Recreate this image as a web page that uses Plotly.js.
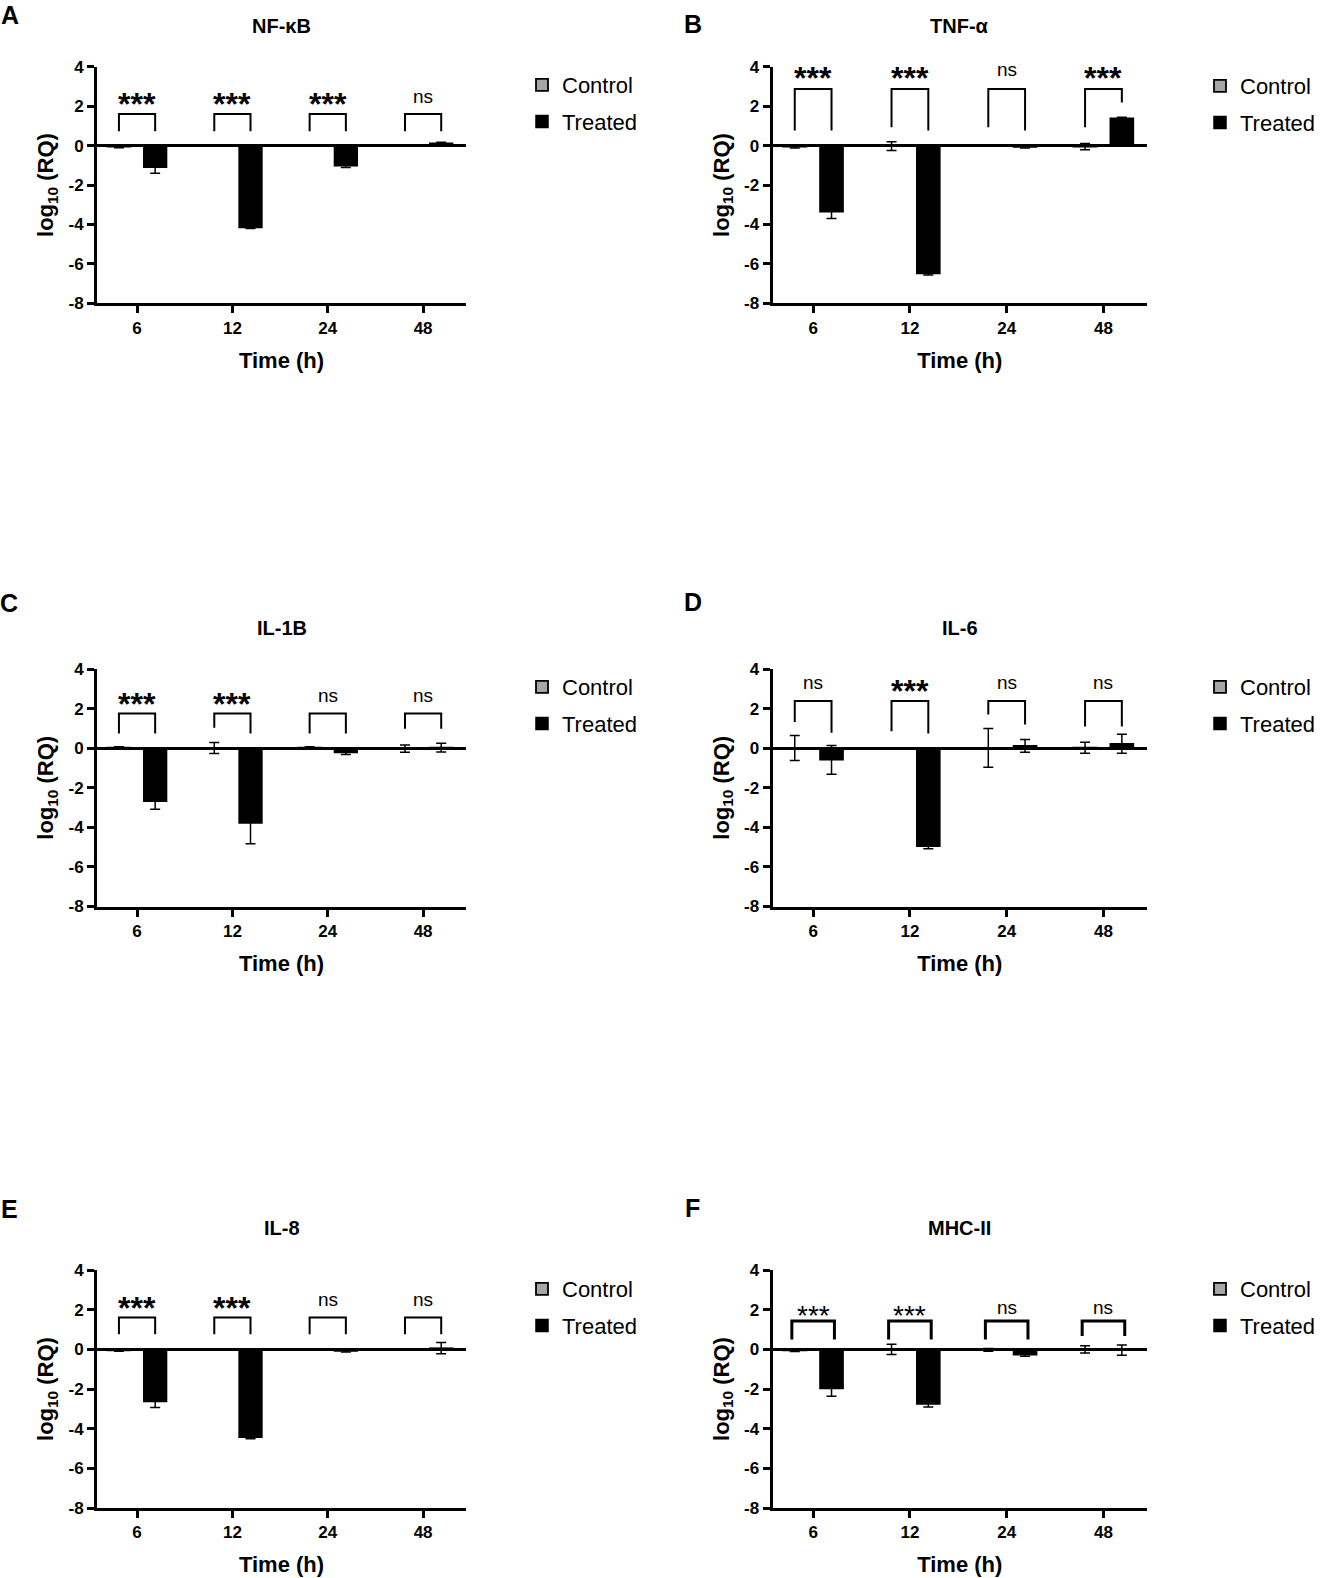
<!DOCTYPE html>
<html>
<head>
<meta charset="utf-8">
<script src="https://cdn.plot.ly/plotly-3.0.1.min.js"></script>
<style>html,body{margin:0;padding:0;background:#fff;} #chart{width:1321px;height:1578px;}</style>
</head>
<body>
<div id="chart"></div>
<script>
// ---------------- DATA ----------------
const categories = ['6', '12', '24', '48'];
const seriesNames = ['Control', 'Treated'];

const nfkbControl = [-0.05, -0.02, -0.02, -0.02];
const nfkbControlErr = [0.06, 0.02, 0.02, 0.02];
const nfkbTreated = [-1.10, -4.15, -1.03, 0.12];
const nfkbTreatedErr = [0.30, 0.05, 0.08, 0.05];
const nfkbSig = ['***', '***', '***', 'ns'];

const tnfControl = [-0.05, -0.03, -0.02, -0.05];
const tnfControlErr = [0.07, 0.22, 0.02, 0.16];
const tnfTreated = [-3.36, -6.49, -0.07, 1.38];
const tnfTreatedErr = [0.34, 0.08, 0.05, 0.05];
const tnfSig = ['***', '***', 'ns', '***'];

const il1bControl = [0.02, 0.01, 0.02, -0.02];
const il1bControlErr = [0.05, 0.28, 0.05, 0.18];
const il1bTreated = [-2.68, -3.78, -0.22, 0.03];
const il1bTreatedErr = [0.40, 1.05, 0.10, 0.22];
const il1bSig = ['***', '***', 'ns', 'ns'];

const il6Control = [0.01, 0.01, 0.01, 0.02];
const il6ControlErr = [0.63, 0.0, 0.98, 0.28];
const il6Treated = [-0.59, -4.96, 0.12, 0.22];
const il6TreatedErr = [0.73, 0.12, 0.32, 0.48];
const il6Sig = ['ns', '***', 'ns', 'ns'];

const il8Control = [-0.05, -0.01, -0.02, -0.03];
const il8ControlErr = [0.05, 0.01, 0.01, 0.02];
const il8Treated = [-2.63, -4.43, -0.08, 0.06];
const il8TreatedErr = [0.30, 0.08, 0.06, 0.28];
const il8Sig = ['***', '***', 'ns', 'ns'];

const mhcControl = [-0.05, 0.0, -0.03, 0.0];
const mhcControlErr = [0.06, 0.26, 0.07, 0.18];
const mhcTreated = [-1.97, -2.76, -0.27, -0.04];
const mhcTreatedErr = [0.40, 0.15, 0.08, 0.26];
const mhcSig = ['***', '***', 'ns', 'ns'];

const yTickVals = [-8, -6, -4, -2, 0, 2, 4];
const yTickText = ['-8', '-6', '-4', '-2', '0', '2', '4'];

// ---------------- LAYOUT CONFIG ----------------
const W = 1321, H = 1578;
const px = v => v / W;
const py = v => 1 - v / H;
const FONT = 'Arial, "Liberation Sans", Helvetica, sans-serif';

const cols = [[97, 466], [772.5, 1147]];
const rows = [[66.7, 303.3], [669, 906.5], [1270, 1508]];

const panels = [
  {letter: 'A', title: 'NF-κB', c: 0, r: 0, ctl: nfkbControl, ctlE: nfkbControlErr, trt: nfkbTreated, trtE: nfkbTreatedErr, sig: nfkbSig,
   brk: {top: 1.60, L: [0.72, 0.72, 0.72, 0.72], R: [0.72, 0.72, 0.72, 0.72], d: 0.19, ty: 2.5, bold: true, lw: 2},
   letterPos: [10, 15], titleY: 26, legY: 84},
  {letter: 'B', title: 'TNF-α', c: 1, r: 0, ctl: tnfControl, ctlE: tnfControlErr, trt: tnfTreated, trtE: tnfTreatedErr, sig: tnfSig,
   brk: {top: 2.87, L: [0.76, 0.93, 0.93, 0.93], R: [0.76, 0.76, 0.76, 2.19], d: 0.19, ty: 3.85, bold: true, lw: 2},
   letterPos: [693, 24], titleY: 26, legY: 85},
  {letter: 'C', title: 'IL-1B', c: 0, r: 1, ctl: il1bControl, ctlE: il1bControlErr, trt: il1bTreated, trtE: il1bTreatedErr, sig: il1bSig,
   brk: {top: 1.75, L: [0.74, 1.03, 0.74, 0.98], R: [0.74, 0.74, 0.74, 0.98], d: 0.19, ty: 2.65, bold: true, lw: 2},
   letterPos: [9, 603], titleY: 628, legY: 686},
  {letter: 'D', title: 'IL-6', c: 1, r: 1, ctl: il6Control, ctlE: il6ControlErr, trt: il6Treated, trtE: il6TreatedErr, sig: il6Sig,
   brk: {top: 2.38, L: [1.32, 0.86, 1.70, 1.10], R: [0.78, 0.74, 1.20, 1.10], d: 0.19, ty: 3.3, bold: true, lw: 2},
   letterPos: [693, 602], titleY: 628, legY: 686},
  {letter: 'E', title: 'IL-8', c: 0, r: 2, ctl: il8Control, ctlE: il8ControlErr, trt: il8Treated, trtE: il8TreatedErr, sig: il8Sig,
   brk: {top: 1.60, L: [0.76, 0.76, 0.76, 0.76], R: [0.76, 0.76, 0.76, 0.76], d: 0.19, ty: 2.5, bold: true, lw: 2},
   letterPos: [9, 1209], titleY: 1228, legY: 1288},
  {letter: 'F', title: 'MHC-II', c: 1, r: 2, ctl: mhcControl, ctlE: mhcControlErr, trt: mhcTreated, trtE: mhcTreatedErr, sig: mhcSig,
   brk: {top: 1.43, L: [0.49, 0.49, 0.49, 0.67], R: [0.49, 0.49, 0.49, 0.67], d: 0.22, ty: 2.13, bold: false, lw: 3},
   letterPos: [692, 1208], titleY: 1228, legY: 1288}
];

const xIdx = categories.map((_, i) => i);
const traces = [];
const layout = {
  width: W, height: H,
  margin: {l: 0, r: 0, t: 0, b: 0, pad: 0},
  paper_bgcolor: '#fff', plot_bgcolor: 'rgba(0,0,0,0)',
  barmode: 'group', bargap: 0.24, bargroupgap: 0.37,
  font: {family: FONT, color: '#000'},
  showlegend: true,
  shapes: [], annotations: []
};

panels.forEach((p, k) => {
  const n = k + 1;
  const xa = 'x' + (n === 1 ? '' : n);
  const ya = 'y' + (n === 1 ? '' : n);
  const legName = 'legend' + (n === 1 ? '' : n);
  const xd = cols[p.c], yd = rows[p.r];

  traces.push({
    type: 'bar', name: seriesNames[0], x: xIdx, y: p.ctl, xaxis: xa, yaxis: ya,
    legend: legName, legendgroup: 'c' + n,
    marker: {color: '#a6a6a6', line: {color: '#000', width: 1.8}},
    error_y: {type: 'data', array: p.ctlE, visible: true, color: '#000', thickness: 1.5, width: 5},
    hoverinfo: 'skip'
  });
  traces.push({
    type: 'bar', name: seriesNames[1], x: xIdx, y: p.trt, xaxis: xa, yaxis: ya,
    legend: legName, legendgroup: 't' + n,
    marker: {color: '#000', line: {color: '#000', width: 1.5}},
    error_y: {type: 'data', array: p.trtE, visible: true, color: '#000', thickness: 1.5, width: 5},
    hoverinfo: 'skip'
  });

  layout['xaxis' + (n === 1 ? '' : n)] = {
    domain: [px(xd[0]), px(xd[1])], anchor: ya,
    range: [-0.42, 3.45], tickvals: xIdx, ticktext: categories,
    showline: true, linewidth: 3, linecolor: '#000', mirror: false,
    ticks: 'outside', ticklen: 7, tickwidth: 3, tickcolor: '#000',
    tickfont: {family: FONT, size: 17, weight: 'bold', color: '#000'},
    showgrid: false, zeroline: false, fixedrange: true,
    title: {text: 'Time (h)', font: {family: FONT, size: 22, weight: 'bold', color: '#000'}, standoff: 16}
  };
  layout['yaxis' + (n === 1 ? '' : n)] = {
    domain: [py(yd[1]), py(yd[0])], anchor: xa,
    range: [-8, 4], tickvals: yTickVals, ticktext: yTickText,
    showline: true, linewidth: 3, linecolor: '#000',
    ticks: 'outside', ticklen: 7, tickwidth: 3, tickcolor: '#000',
    tickfont: {family: FONT, size: 17, weight: 'bold', color: '#000'},
    showgrid: false, zeroline: true, zerolinewidth: 3, zerolinecolor: '#000', fixedrange: true,
    title: {text: 'log<sub>10</sub> (RQ)', font: {family: FONT, size: 22, weight: 'bold', color: '#000'}, standoff: 9}
  };

  layout[legName] = {
    x: px(p.c === 0 ? 522 : 1200), xanchor: 'left',
    y: py(p.legY - 20), yanchor: 'top',
    bgcolor: 'rgba(0,0,0,0)', borderwidth: 0,
    font: {family: FONT, size: 22, color: '#000'},
    tracegroupgap: 5, traceorder: 'grouped'
  };

  // subplot title
  layout.annotations.push({
    xref: 'paper', yref: 'paper', x: px((xd[0] + xd[1]) / 2), y: py(p.titleY),
    xanchor: 'center', yanchor: 'middle', showarrow: false,
    text: p.title, font: {family: FONT, size: 20, weight: 'bold', color: '#000'}
  });
  // panel letter
  layout.annotations.push({
    xref: 'paper', yref: 'paper', x: px(p.letterPos[0]), y: py(p.letterPos[1]),
    xanchor: 'center', yanchor: 'middle', showarrow: false,
    text: p.letter, font: {family: FONT, size: 25, weight: 'bold', color: '#000'}
  });

  // significance brackets
  p.sig.forEach((s, i) => {
    const b = p.brk;
    layout.shapes.push({
      type: 'path', xref: xa, yref: ya,
      path: `M ${i - b.d},${b.L[i]} L ${i - b.d},${b.top} L ${i + b.d},${b.top} L ${i + b.d},${b.R[i]}`,
      line: {color: '#000', width: b.lw}
    });
    const isStar = s.indexOf('*') >= 0;
    layout.annotations.push({
      xref: xa, yref: ya, x: i, y: isStar ? b.ty - 0.4 : b.ty,
      xanchor: 'center', yanchor: 'middle', showarrow: false, text: s,
      font: isStar
        ? {family: FONT, size: b.bold ? 32 : 28, weight: b.bold ? 'bold' : 'normal', color: '#000'}
        : {family: FONT, size: 19, weight: 'normal', color: '#000'}
    });
  });
});

Plotly.newPlot('chart', traces, layout, {staticPlot: true, displayModeBar: false});
</script>
</body>
</html>
